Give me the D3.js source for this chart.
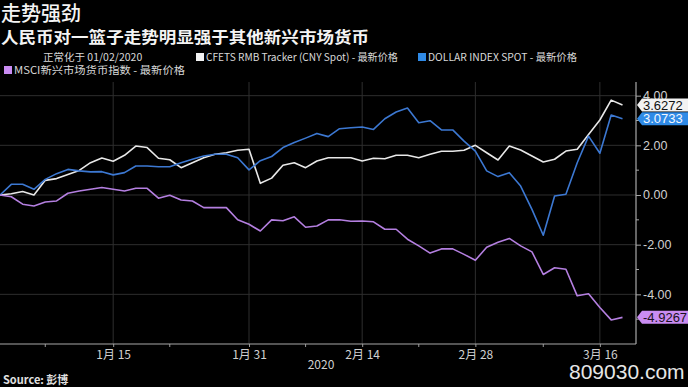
<!DOCTYPE html>
<html>
<head>
<meta charset="utf-8">
<script src="https://cdn.jsdelivr.net/npm/d3@7"></script>
<style>
  body { margin: 0; background: #000; }
  svg { display: block; }
  text { font-family: "Liberation Sans", Arial, sans-serif; }
  .cjk { font-family: "Noto Sans CJK SC", sans-serif; }
</style>
</head>
<body>
<svg id="chart"></svg>
<script>
// data (weekdays, normalised to 01/02/2020)
const dates = [
  '2020-01-01','2020-01-02','2020-01-03','2020-01-06','2020-01-07','2020-01-08','2020-01-09','2020-01-10',
  '2020-01-13','2020-01-14','2020-01-15','2020-01-16','2020-01-17','2020-01-20','2020-01-21','2020-01-22',
  '2020-01-23','2020-01-24','2020-01-27','2020-01-28','2020-01-29','2020-01-30','2020-01-31',
  '2020-02-03','2020-02-04','2020-02-05','2020-02-06','2020-02-07','2020-02-10','2020-02-11','2020-02-12',
  '2020-02-13','2020-02-14','2020-02-17','2020-02-18','2020-02-19','2020-02-20','2020-02-21','2020-02-24',
  '2020-02-25','2020-02-26','2020-02-27','2020-02-28',
  '2020-03-02','2020-03-03','2020-03-04','2020-03-05','2020-03-06','2020-03-09','2020-03-10','2020-03-11',
  '2020-03-12','2020-03-13','2020-03-16','2020-03-17','2020-03-18'
];

const cfets = [0, 0.05, 0.14, 0, 0.59, 0.66, 0.83, 0.99, 1.30, 1.49, 1.36, 1.60, 1.97, 1.91, 1.48, 1.42,
  1.10, 1.30, 1.50, 1.64, 1.70, 1.80, 1.84, 0.47, 0.68, 1.20, 1.30, 1.10, 1.37, 1.50, 1.50, 1.50,
  1.37, 1.48, 1.46, 1.60, 1.60, 1.50, 1.64, 1.76, 1.76, 1.80, 2.00, 1.70, 1.41, 1.97, 1.81, 1.57,
  1.33, 1.44, 1.77, 1.84, 2.44, 3.02, 3.82, 3.6272];

const dxy = [0, 0.43, 0.43, 0.23, 0.63, 0.86, 1.03, 0.97, 0.93, 0.94, 0.81, 0.90, 1.17, 1.17, 1.14, 1.14,
  1.30, 1.44, 1.57, 1.64, 1.64, 1.50, 1.01, 1.38, 1.55, 1.91, 2.11, 2.29, 2.48, 2.35, 2.67, 2.71,
  2.74, 2.64, 3.07, 3.34, 3.50, 2.91, 2.99, 2.62, 2.62, 2.17, 1.77, 0.97, 0.74, 0.90, 0.36, -0.58,
  -1.62, -0.04, 0.03, 1.30, 2.37, 1.68, 3.22, 3.0733];

const msci = [0, -0.07, -0.37, -0.44, -0.28, -0.24, 0.07, 0.16, 0.23, 0.30, 0.23, 0.16, 0.27, 0.27, -0.13, -0.01,
  -0.20, -0.24, -0.51, -0.51, -0.51, -1.00, -1.18, -1.45, -1.00, -1.04, -0.88, -1.30, -1.25, -1.00, -1.00, -1.06,
  -1.05, -1.08, -1.38, -1.38, -1.78, -2.05, -2.34, -2.17, -2.17, -2.39, -2.63, -2.10, -1.90, -1.75, -2.05, -2.29,
  -3.20, -2.93, -2.99, -4.06, -3.98, -4.53, -5.03, -4.9267];

const majorTicks = ['2020-01-15', '2020-01-31', '2020-02-14', '2020-02-28', '2020-03-16'];
const majorLabels = ['1月 15', '1月 31', '2月 14', '2月 28', '3月 16'];
const minorTicks = ['2020-01-07', '2020-01-22', '2020-02-07', '2020-02-21', '2020-03-09'];
const yTicks = [-4, -2, 0, 2, 4];
const yMinor = [-5, -3, -1, 1, 3];

const series = [
  { name: 'CFETS RMB Tracker (CNY Spot) - 最新价格', values: cfets, color: '#e8e8e8', labelBg: '#f2f2f2', labelFg: '#111' },
  { name: 'DOLLAR INDEX SPOT - 最新价格', values: dxy, color: '#3c78d2', labelBg: '#2f8ae6', labelFg: '#f4f8ff' },
  { name: 'MSCI新兴市场货币指数 - 最新价格', values: msci, color: '#b47fe0', labelBg: '#c98cf2', labelFg: '#1a1020' }
];

// set up constants
const width = 688;
const height = 387;
const plot = { left: 0, right: 636, top: 82, bottom: 344 };

const svg = d3.select('#chart')
  .attr('width', width)
  .attr('height', height);

svg.append('rect')
  .attr('width', width)
  .attr('height', height)
  .attr('fill', '#000');

// scales
const x = d3.scalePoint()
  .domain(dates)
  .range([0, 622.5]);

const y = d3.scaleLinear()
  .domain([-6, 4.55])
  .range([plot.bottom, plot.top]);

// grid
svg.append('g')
  .selectAll('line')
  .data(yTicks)
  .join('line')
  .attr('x1', plot.left)
  .attr('x2', plot.right)
  .attr('y1', d => y(d))
  .attr('y2', d => y(d))
  .attr('stroke', '#2e2e2e')
  .attr('stroke-width', 1);

svg.append('g')
  .selectAll('line')
  .data(majorTicks)
  .join('line')
  .attr('x1', d => x(d))
  .attr('x2', d => x(d))
  .attr('y1', plot.top)
  .attr('y2', plot.bottom)
  .attr('stroke', '#2e2e2e')
  .attr('stroke-width', 1);

// lines
const line = d3.line()
  .x((d, i) => x(dates[i]))
  .y(d => y(d));

series.forEach(s => {
  svg.append('path')
    .datum(s.values)
    .attr('fill', 'none')
    .attr('stroke', s.color)
    .attr('stroke-width', 1.6)
    .attr('stroke-linejoin', 'round')
    .attr('d', line);
});

// x axis
const xAxis = d3.axisBottom(x)
  .tickValues(majorTicks)
  .tickFormat((d, i) => majorLabels[i])
  .tickSize(3)
  .tickPadding(3);

const gx = svg.append('g')
  .attr('transform', `translate(0, ${plot.bottom})`)
  .call(xAxis);
gx.select('.domain').remove();
gx.selectAll('.tick line').attr('stroke', '#9a9a9a');
gx.selectAll('.tick text')
  .attr('class', 'cjk')
  .attr('fill', '#d0d0d0')
  .style('font-size', '12px');

gx.append('g')
  .selectAll('line')
  .data(minorTicks)
  .join('line')
  .attr('x1', d => x(d))
  .attr('x2', d => x(d))
  .attr('y1', 0)
  .attr('y2', 3)
  .attr('stroke', '#9a9a9a');

svg.append('line')
  .attr('x1', 0)
  .attr('x2', plot.right)
  .attr('y1', plot.bottom)
  .attr('y2', plot.bottom)
  .attr('stroke', '#a8a8a8')
  .attr('stroke-width', 1.2);

// y axis
const yAxis = d3.axisRight(y)
  .tickValues(yTicks)
  .tickFormat(d => d.toFixed(2))
  .tickSize(5)
  .tickPadding(2);

const gy = svg.append('g')
  .attr('transform', `translate(${plot.right}, 0)`)
  .call(yAxis);
gy.select('.domain').remove();
gy.selectAll('.tick line').attr('stroke', '#a8a8a8');
gy.selectAll('.tick text')
  .attr('fill', '#d0d0d0')
  .style('font-size', '12.5px');

gy.append('g')
  .selectAll('line')
  .data(yMinor)
  .join('line')
  .attr('x1', 0)
  .attr('x2', 3)
  .attr('y1', d => y(d))
  .attr('y2', d => y(d))
  .attr('stroke', '#a8a8a8');

svg.append('line')
  .attr('x1', plot.right)
  .attr('x2', plot.right)
  .attr('y1', plot.top)
  .attr('y2', plot.bottom)
  .attr('stroke', '#a8a8a8')
  .attr('stroke-width', 1.2);

// last value tags
series.forEach(s => {
  const v = s.values[s.values.length - 1];
  const yv = y(v);
  const tag = svg.append('g').attr('transform', `translate(${plot.right + 1}, ${yv})`);
  tag.append('path')
    .attr('d', 'M0,0 L5,-6.5 L52,-6.5 L52,6.5 L5,6.5 Z')
    .attr('fill', s.labelBg);
  tag.append('text')
    .attr('x', 6)
    .attr('y', 0)
    .attr('dy', '0.36em')
    .attr('fill', s.labelFg)
    .style('font-size', '13px')
    .text(v.toFixed(4));
});

// titles
svg.append('text')
  .attr('class', 'cjk')
  .attr('x', 1)
  .attr('y', 21)
  .attr('fill', '#f4f4f4')
  .style('font-size', '20px')
  .style('font-weight', 500)
  .text('走势强劲');

svg.append('text')
  .attr('class', 'cjk')
  .attr('x', 1)
  .attr('y', 42.5)
  .attr('fill', '#f4f4f4')
  .style('font-size', '16px')
  .style('font-weight', 700)
  .attr('textLength', 368)
  .attr('lengthAdjust', 'spacingAndGlyphs')
  .text('人民币对一篮子走势明显强于其他新兴市场货币');

// legend
svg.append('text')
  .attr('class', 'cjk')
  .attr('x', 43)
  .attr('y', 60.5)
  .attr('fill', '#d8d8d8')
  .style('font-size', '10.5px')
  .text('正常化于 01/02/2020');

const legendPos = [
  { x: 196, y: 57 },
  { x: 418, y: 57 },
  { x: 4, y: 70 }
];
const legendWidth = [202, 159, 181];

series.forEach((s, i) => {
  const p = legendPos[i];
  svg.append('rect')
    .attr('x', p.x)
    .attr('y', p.y - 4)
    .attr('width', 8)
    .attr('height', 8)
    .attr('fill', s.labelBg);
  svg.append('text')
    .attr('class', 'cjk')
    .attr('x', p.x + 10)
    .attr('y', p.y)
    .attr('dy', '0.34em')
    .attr('fill', '#d8d8d8')
    .attr('textLength', legendWidth[i] - 10)
    .attr('lengthAdjust', 'spacingAndGlyphs')
    .style('font-size', '10.5px')
    .text(s.name);
});

// footer
svg.append('text')
  .attr('class', 'cjk')
  .attr('x', 321)
  .attr('y', 369)
  .attr('text-anchor', 'middle')
  .attr('fill', '#d0d0d0')
  .style('font-size', '12px')
  .text('2020');

svg.append('text')
  .attr('class', 'cjk')
  .attr('x', 3)
  .attr('y', 384)
  .attr('fill', '#e0e0e0')
  .style('font-size', '11px')
  .style('font-weight', 700)
  .text('Source: 彭博');

svg.append('text')
  .attr('x', 569)
  .attr('y', 379)
  .attr('fill', '#e6e6e6')
  .style('font-size', '21px')
  .text('809030.com');
</script>
</body>
</html>
